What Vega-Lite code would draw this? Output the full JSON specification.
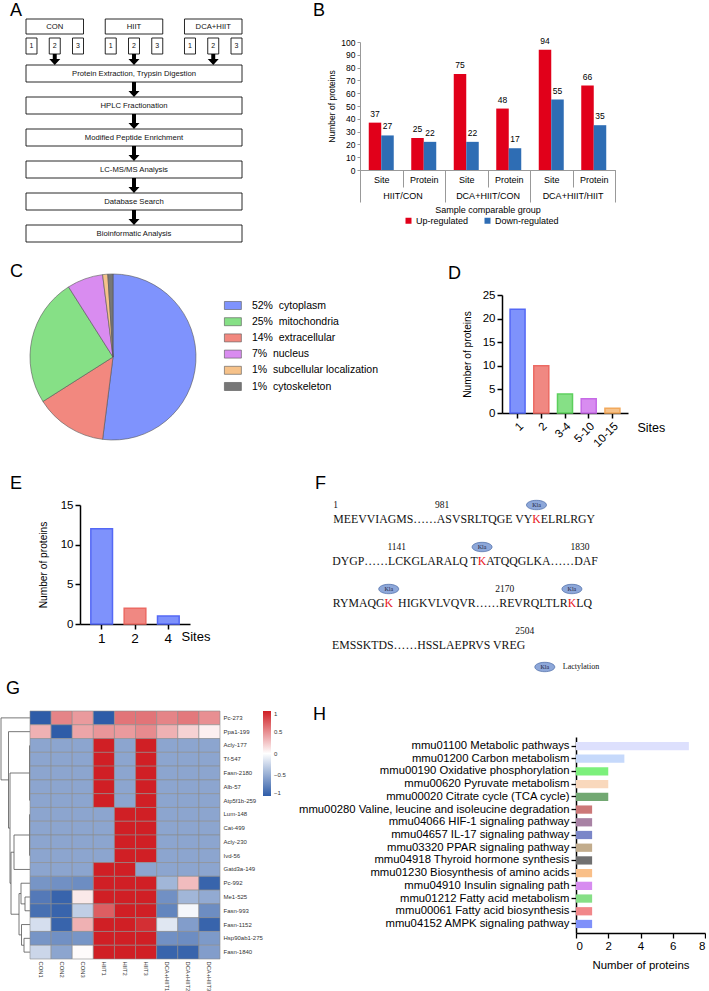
{
  "$schema": "https://vega.github.io/schema/vega-lite/v6.json",
  "background": "white",
  "padding": 0,
  "columns": 2,
  "align": "each",
  "bounds": "flush",
  "spacing": 0,
  "config": {
    "view": {"stroke": null},
    "font": "Liberation Sans",
    "axis": {"labelFont": "Liberation Sans", "titleFont": "Liberation Sans", "labelColor": "#000", "titleColor": "#000", "titleFontWeight": "normal", "grid": false, "labelOverlap": false},
    "legend": {"labelFont": "Liberation Sans", "titleFont": "Liberation Sans", "labelColor": "#000", "padding": 0},
    "title": {"font": "Liberation Sans", "fontSize": 18, "fontWeight": "normal", "anchor": "start", "frame": "group", "baseline": "top", "offset": 0, "color": "#000"},
    "text": {"font": "Liberation Sans", "color": "#000"}
  },
  "datasets": {
    "flowGroups": [
      {"group": "CON", "feeds": "Protein Extraction, Trypsin Digestion"},
      {"group": "HIIT", "feeds": "Protein Extraction, Trypsin Digestion"},
      {"group": "DCA+HIIT", "feeds": "Protein Extraction, Trypsin Digestion"}
    ],
    "flowSamples": [
      {"group": "CON", "sample": "1"}, {"group": "CON", "sample": "2"}, {"group": "CON", "sample": "3"},
      {"group": "HIIT", "sample": "1"}, {"group": "HIIT", "sample": "2"}, {"group": "HIIT", "sample": "3"},
      {"group": "DCA+HIIT", "sample": "1"}, {"group": "DCA+HIIT", "sample": "2"}, {"group": "DCA+HIIT", "sample": "3"}
    ],
    "flowSteps": [
      {"order": 1, "step": "Protein Extraction, Trypsin Digestion", "lane": "all"},
      {"order": 2, "step": "HPLC Fractionation", "lane": "all"},
      {"order": 3, "step": "Modified Peptide Enrichment", "lane": "all"},
      {"order": 4, "step": "LC-MS/MS Analysis", "lane": "all"},
      {"order": 5, "step": "Database Search", "lane": "all"},
      {"order": 6, "step": "Bioinformatic Analysis", "lane": "all"}
    ],
    "bData": [
      {"comparison": "HIIT/CON", "type": "Site", "direction": "Up-regulated", "count": 37},
      {"comparison": "HIIT/CON", "type": "Site", "direction": "Down-regulated", "count": 27},
      {"comparison": "HIIT/CON", "type": "Protein", "direction": "Up-regulated", "count": 25},
      {"comparison": "HIIT/CON", "type": "Protein", "direction": "Down-regulated", "count": 22},
      {"comparison": "DCA+HIIT/CON", "type": "Site", "direction": "Up-regulated", "count": 75},
      {"comparison": "DCA+HIIT/CON", "type": "Site", "direction": "Down-regulated", "count": 22},
      {"comparison": "DCA+HIIT/CON", "type": "Protein", "direction": "Up-regulated", "count": 48},
      {"comparison": "DCA+HIIT/CON", "type": "Protein", "direction": "Down-regulated", "count": 17},
      {"comparison": "DCA+HIIT/HIIT", "type": "Site", "direction": "Up-regulated", "count": 94},
      {"comparison": "DCA+HIIT/HIIT", "type": "Site", "direction": "Down-regulated", "count": 55},
      {"comparison": "DCA+HIIT/HIIT", "type": "Protein", "direction": "Up-regulated", "count": 66},
      {"comparison": "DCA+HIIT/HIIT", "type": "Protein", "direction": "Down-regulated", "count": 35}
    ],
    "cData": [
      {"location": "cytoplasm", "pct": 52, "seq": 1},
      {"location": "extracellular", "pct": 14, "seq": 2},
      {"location": "mitochondria", "pct": 25, "seq": 3},
      {"location": "nucleus", "pct": 7, "seq": 4},
      {"location": "subcellular localization", "pct": 1, "seq": 5},
      {"location": "cytoskeleton", "pct": 1, "seq": 6}
    ],
    "dData": [
      {"sites": "1", "count": 22}, {"sites": "2", "count": 10}, {"sites": "3-4", "count": 4},
      {"sites": "5-10", "count": 3}, {"sites": "10-15", "count": 1}
    ],
    "eData": [
      {"sites": "1", "count": 12}, {"sites": "2", "count": 2}, {"sites": "4", "count": 1}
    ],
    "fSeq": [
      {"line": 1, "pos": 25.56, "before": "MEEVVIAGMS……ASVSRLTQGE VY", "site": "K", "after": "ELRLRGY", "mod": "Kla"},
      {"line": 2, "pos": 18.76, "before": "DYGP……LCKGLARALQ T", "site": "K", "after": "ATQQGLKA……DAF", "mod": "Kla"},
      {"line": 3, "pos": 7.09, "before": "RYMAQG", "site": "K", "after": "", "mod": "Kla"},
      {"line": 3, "pos": 29.99, "before": "\u00a0HIGKVLVQVR……REVRQLTLR", "site": "K", "after": "\u00a0LQ", "mod": "Kla"}
    ],
    "fPlain": [
      {"line": 4, "pos": 0, "text": "EMSSKTDS……HSSLAEPRVS VREG"}
    ],
    "fNums": [
      {"line": 1, "pos": 0.44, "label": "1"},
      {"line": 1, "pos": 13.75, "label": "981"},
      {"line": 2, "pos": 8.1, "label": "1141"},
      {"line": 2, "pos": 31, "label": "1830"},
      {"line": 3, "pos": 21.6, "label": "2170"},
      {"line": 4, "pos": 24.1, "label": "2504"}
    ],
    "fLegend": [
      {"line": 5, "pos": 26.6, "mod": "Kla", "meaning": "Lactylation"}
    ],
    "gData": [
      {"p": "Pc-273", "CON1": -1, "CON2": 0.55, "CON3": 0.45, "HIIT1": -1, "HIIT2": 0.62, "HIIT3": 0.62, "DCA+HIIT1": 0.55, "DCA+HIIT2": 0.6, "DCA+HIIT3": 0.5},
      {"p": "Ppa1-199", "CON1": 0.35, "CON2": -1, "CON3": 0.4, "HIIT1": 0.47, "HIIT2": 0.45, "HIIT3": 0.52, "DCA+HIIT1": 0.35, "DCA+HIIT2": 0.2, "DCA+HIIT3": 0.07},
      {"p": "Acly-177", "CON1": -0.55, "CON2": -0.55, "CON3": -0.55, "HIIT1": 1, "HIIT2": -0.55, "HIIT3": 1, "DCA+HIIT1": -0.55, "DCA+HIIT2": -0.55, "DCA+HIIT3": -0.55},
      {"p": "Tf-547", "CON1": -0.55, "CON2": -0.55, "CON3": -0.55, "HIIT1": 1, "HIIT2": -0.55, "HIIT3": 1, "DCA+HIIT1": -0.55, "DCA+HIIT2": -0.55, "DCA+HIIT3": -0.55},
      {"p": "Fasn-2180", "CON1": -0.55, "CON2": -0.55, "CON3": -0.55, "HIIT1": 1, "HIIT2": -0.55, "HIIT3": 1, "DCA+HIIT1": -0.55, "DCA+HIIT2": -0.55, "DCA+HIIT3": -0.55},
      {"p": "Alb-57", "CON1": -0.55, "CON2": -0.55, "CON3": -0.55, "HIIT1": 1, "HIIT2": -0.55, "HIIT3": 1, "DCA+HIIT1": -0.55, "DCA+HIIT2": -0.55, "DCA+HIIT3": -0.55},
      {"p": "Atp5f1b-259", "CON1": -0.55, "CON2": -0.55, "CON3": -0.55, "HIIT1": 1, "HIIT2": -0.55, "HIIT3": 1, "DCA+HIIT1": -0.55, "DCA+HIIT2": -0.55, "DCA+HIIT3": -0.55},
      {"p": "Lum-148", "CON1": -0.55, "CON2": -0.55, "CON3": -0.55, "HIIT1": -0.55, "HIIT2": 1, "HIIT3": 1, "DCA+HIIT1": -0.55, "DCA+HIIT2": -0.55, "DCA+HIIT3": -0.55},
      {"p": "Cat-499", "CON1": -0.55, "CON2": -0.55, "CON3": -0.55, "HIIT1": -0.55, "HIIT2": 1, "HIIT3": 1, "DCA+HIIT1": -0.55, "DCA+HIIT2": -0.55, "DCA+HIIT3": -0.55},
      {"p": "Acly-230", "CON1": -0.55, "CON2": -0.55, "CON3": -0.55, "HIIT1": -0.55, "HIIT2": 1, "HIIT3": 1, "DCA+HIIT1": -0.55, "DCA+HIIT2": -0.55, "DCA+HIIT3": -0.55},
      {"p": "Ivd-56", "CON1": -0.55, "CON2": -0.55, "CON3": -0.55, "HIIT1": -0.55, "HIIT2": 1, "HIIT3": 1, "DCA+HIIT1": -0.55, "DCA+HIIT2": -0.55, "DCA+HIIT3": -0.55},
      {"p": "Gatd3a-149", "CON1": -0.55, "CON2": -0.55, "CON3": -0.55, "HIIT1": 1, "HIIT2": 1, "HIIT3": -0.55, "DCA+HIIT1": -0.55, "DCA+HIIT2": -0.55, "DCA+HIIT3": -0.55},
      {"p": "Pc-992", "CON1": -0.65, "CON2": -0.68, "CON3": -0.7, "HIIT1": 1, "HIIT2": 1, "HIIT3": 1, "DCA+HIIT1": -0.45, "DCA+HIIT2": 0.3, "DCA+HIIT3": -0.95},
      {"p": "Me1-525", "CON1": -0.82, "CON2": -0.95, "CON3": 0.1, "HIIT1": 1, "HIIT2": 1, "HIIT3": 1, "DCA+HIIT1": -0.68, "DCA+HIIT2": -0.45, "DCA+HIIT3": -0.52},
      {"p": "Fasn-993", "CON1": -0.88, "CON2": -0.95, "CON3": -0.3, "HIIT1": 0.72, "HIIT2": 1, "HIIT3": 1, "DCA+HIIT1": -0.75, "DCA+HIIT2": -0.05, "DCA+HIIT3": -0.7},
      {"p": "Fasn-1152", "CON1": -0.2, "CON2": -0.95, "CON3": 0.35, "HIIT1": 1, "HIIT2": 1, "HIIT3": 0.93, "DCA+HIIT1": -0.15, "DCA+HIIT2": -0.6, "DCA+HIIT3": -0.95},
      {"p": "Hsp90ab1-275", "CON1": -0.65, "CON2": -0.68, "CON3": -0.65, "HIIT1": 1, "HIIT2": 1, "HIIT3": 1, "DCA+HIIT1": -0.68, "DCA+HIIT2": -0.7, "DCA+HIIT3": -0.62},
      {"p": "Fasn-1840", "CON1": -0.25, "CON2": -0.55, "CON3": 0.02, "HIIT1": 1, "HIIT2": 1, "HIIT3": 1, "DCA+HIIT1": -0.95, "DCA+HIIT2": -0.95, "DCA+HIIT3": -0.6}
    ],
    "dend": [
      {"h1": 29, "h2": 29, "r1": 1, "r2": 5.5}, {"h1": 29, "h2": 0, "r1": 1, "r2": 1}, {"h1": 29, "h2": 21.5, "r1": 5.5, "r2": 5.5},
      {"h1": 21.5, "h2": 21.5, "r1": 2, "r2": 9}, {"h1": 21.5, "h2": 0, "r1": 2, "r2": 2}, {"h1": 21.5, "h2": 20, "r1": 9, "r2": 9},
      {"h1": 20, "h2": 20, "r1": 5, "r2": 13}, {"h1": 20, "h2": 0.5, "r1": 5, "r2": 5}, {"h1": 20, "h2": 19, "r1": 13, "r2": 13},
      {"h1": 0.5, "h2": 0.5, "r1": 3, "r2": 7},
      {"h1": 19, "h2": 19, "r1": 10.75, "r2": 15.25}, {"h1": 19, "h2": 16, "r1": 10.75, "r2": 10.75}, {"h1": 19, "h2": 11, "r1": 15.25, "r2": 15.25},
      {"h1": 16, "h2": 16, "r1": 9.5, "r2": 12}, {"h1": 16, "h2": 0.5, "r1": 9.5, "r2": 9.5}, {"h1": 16, "h2": 0, "r1": 12, "r2": 12},
      {"h1": 0.5, "h2": 0.5, "r1": 8, "r2": 11},
      {"h1": 11, "h2": 11, "r1": 13.75, "r2": 16.75}, {"h1": 11, "h2": 9, "r1": 13.75, "r2": 13.75}, {"h1": 11, "h2": 8.5, "r1": 16.75, "r2": 16.75},
      {"h1": 9, "h2": 9, "r1": 13, "r2": 14.5}, {"h1": 9, "h2": 0, "r1": 13, "r2": 13}, {"h1": 9, "h2": 5, "r1": 14.5, "r2": 14.5},
      {"h1": 5, "h2": 5, "r1": 14, "r2": 15}, {"h1": 5, "h2": 0, "r1": 14, "r2": 14}, {"h1": 5, "h2": 0, "r1": 15, "r2": 15},
      {"h1": 8.5, "h2": 8.5, "r1": 16, "r2": 17.5}, {"h1": 8.5, "h2": 0, "r1": 16, "r2": 16}, {"h1": 8.5, "h2": 6, "r1": 17.5, "r2": 17.5},
      {"h1": 6, "h2": 6, "r1": 17, "r2": 18}, {"h1": 6, "h2": 0, "r1": 17, "r2": 17}, {"h1": 6, "h2": 0, "r1": 18, "r2": 18}
    ],
    "hData": [
      {"pathway": "mmu01100 Metabolic pathways", "count": 7},
      {"pathway": "mmu01200 Carbon metabolism", "count": 3},
      {"pathway": "mmu00190 Oxidative phosphorylation", "count": 2},
      {"pathway": "mmu00620 Pyruvate metabolism", "count": 2},
      {"pathway": "mmu00020 Citrate cycle (TCA cycle)", "count": 2},
      {"pathway": "mmu00280 Valine, leucine and isoleucine degradation", "count": 1},
      {"pathway": "mmu04066 HIF-1 signaling pathway", "count": 1},
      {"pathway": "mmu04657 IL-17 signaling pathway", "count": 1},
      {"pathway": "mmu03320 PPAR signaling pathway", "count": 1},
      {"pathway": "mmu04918 Thyroid hormone synthesis", "count": 1},
      {"pathway": "mmu01230 Biosynthesis of amino acids", "count": 1},
      {"pathway": "mmu04910 Insulin signaling path", "count": 1},
      {"pathway": "mmu01212 Fatty acid metabolism", "count": 1},
      {"pathway": "mmu00061 Fatty acid biosynthesis", "count": 1},
      {"pathway": "mmu04152 AMPK signaling pathway", "count": 1}
    ]
  },
  "concat": [
    {
      "width": 360, "height": 274,
      "title": {"text": "A", "dx": 10, "dy": 23.5},
      "resolve": {"scale": {"x": "independent", "y": "independent"}},
      "layer": [
        {
          "data": {"name": "flowGroups"},
          "encoding": {
            "x": {"field": "group", "type": "nominal", "sort": null, "axis": null, "scale": {"type": "band", "range": [26, 242], "paddingInner": 0.2744, "paddingOuter": 0}},
            "y": {"datum": "groups", "type": "nominal", "axis": null, "scale": {"type": "band", "range": [19, 34], "paddingInner": 0, "paddingOuter": 0}}
          },
          "layer": [
            {"mark": {"type": "rect", "fill": "white", "stroke": "#111", "strokeWidth": 0.9}},
            {"mark": {"type": "text", "fontSize": 7.7, "color": "#111"}, "encoding": {"text": {"field": "group"}}}
          ]
        },
        {
          "data": {"name": "flowSamples"},
          "encoding": {
            "x": {"field": "group", "type": "nominal", "sort": null, "axis": null, "scale": {"type": "band", "range": [26, 242], "paddingInner": 0.2744, "paddingOuter": 0}},
            "xOffset": {"field": "sample", "type": "nominal", "scale": {"paddingInner": 0.527, "paddingOuter": 0}},
            "y": {"datum": "samples", "type": "nominal", "axis": null, "scale": {"type": "band", "range": [38, 54], "paddingInner": 0, "paddingOuter": 0}}
          },
          "layer": [
            {"mark": {"type": "rect", "fill": "white", "stroke": "#111", "strokeWidth": 0.9}},
            {"mark": {"type": "text", "fontSize": 7, "color": "#111"}, "encoding": {"text": {"field": "sample"}}}
          ]
        },
        {
          "data": {"name": "flowSteps"},
          "encoding": {
            "x": {"field": "lane", "type": "nominal", "axis": null, "scale": {"type": "band", "range": [26, 242], "paddingInner": 0, "paddingOuter": 0}},
            "y": {"field": "step", "type": "nominal", "axis": null, "scale": {"type": "band", "domain": ["Protein Extraction, Trypsin Digestion", "HPLC Fractionation", "Modified Peptide Enrichment", "LC-MS/MS Analysis", "Database Search", "Bioinformatic Analysis"], "range": [65, 242], "paddingInner": 0.46875, "paddingOuter": 0}}
          },
          "layer": [
            {"mark": {"type": "rect", "fill": "white", "stroke": "#111", "strokeWidth": 0.9}},
            {"mark": {"type": "text", "fontSize": 7.7, "color": "#111"}, "encoding": {"text": {"field": "step"}}}
          ]
        },
        {
          "data": {"name": "flowSteps"},
          "transform": [{"filter": "datum.order > 1"}],
          "mark": {"type": "point", "shape": "M-0.133,-1L0.133,-1L0.133,-0.4L0.367,-0.4L0,0L-0.367,-0.4L-0.133,-0.4Z", "size": 900, "filled": true, "fill": "#000", "strokeWidth": 0, "opacity": 1},
          "encoding": {
            "x": {"field": "lane", "type": "nominal", "axis": null, "scale": {"type": "band", "range": [26, 242], "paddingInner": 0, "paddingOuter": 0}},
            "y": {"field": "step", "type": "nominal", "bandPosition": 0, "axis": null, "scale": {"type": "band", "domain": ["Protein Extraction, Trypsin Digestion", "HPLC Fractionation", "Modified Peptide Enrichment", "LC-MS/MS Analysis", "Database Search", "Bioinformatic Analysis"], "range": [65, 242], "paddingInner": 0.46875, "paddingOuter": 0}}
          }
        },
        {
          "data": {"name": "flowGroups"},
          "mark": {"type": "point", "shape": "M-0.18,-1L0.18,-1L0.18,-0.545L0.5,-0.545L0,0L-0.5,-0.545L-0.18,-0.545Z", "size": 484, "filled": true, "fill": "#000", "strokeWidth": 0, "opacity": 1},
          "encoding": {
            "x": {"field": "group", "type": "nominal", "sort": null, "axis": null, "scale": {"type": "band", "range": [26, 242], "paddingInner": 0.2744, "paddingOuter": 0}},
            "y": {"field": "feeds", "type": "nominal", "bandPosition": 0, "axis": null, "scale": {"type": "band", "domain": ["Protein Extraction, Trypsin Digestion", "HPLC Fractionation", "Modified Peptide Enrichment", "LC-MS/MS Analysis", "Database Search", "Bioinformatic Analysis"], "range": [65, 242], "paddingInner": 0.46875, "paddingOuter": 0}}
          }
        }
      ]
    },
    {
      "width": 255, "height": 170,
      "data": {"name": "bData"},
      "transform": [{"calculate": "datum.comparison + '|' + datum.type", "as": "combo"}],
      "title": {"text": "B", "dx": -47, "dy": 23.5},
      "resolve": {"scale": {"x": "independent", "xOffset": "independent"}},
      "layer": [
        {
          "encoding": {
            "x": {"field": "combo", "type": "nominal", "sort": null, "scale": {"paddingInner": 0, "paddingOuter": 0},
              "axis": {"title": null, "labelExpr": "split(datum.label, '|')[1]", "tickBand": "extent", "tickSize": 17, "labelPadding": -12, "labelAngle": 0, "labelFontSize": 9, "domainColor": "#999", "tickColor": "#999", "labelColor": "#000"}},
            "xOffset": {"field": "direction", "type": "nominal", "sort": ["Up-regulated", "Down-regulated"], "scale": {"paddingInner": 0, "paddingOuter": 0.7}},
            "y": {"field": "count", "type": "quantitative", "scale": {"domain": [0, 100], "range": [170, 42], "nice": false},
              "axis": {"values": [0, 10, 20, 30, 40, 50, 60, 70, 80, 90, 100], "title": "Number of proteins", "titleFontSize": 8.5, "labelFontSize": 8.5, "tickSize": 3, "domainColor": "#999", "tickColor": "#999", "titlePadding": 4, "labelColor": "#000", "labelOverlap": false}}
          },
          "layer": [
            {
              "mark": {"type": "bar"},
              "encoding": {
                "color": {"field": "direction", "type": "nominal", "sort": ["Up-regulated", "Down-regulated"], "scale": {"range": ["#E1001A", "#2E6DB4"]},
                  "legend": {"orient": "none", "legendX": 44, "legendY": 216, "direction": "horizontal", "title": null, "symbolType": "square", "symbolSize": 36, "labelFontSize": 9, "columnPadding": 14, "labelOffset": 3}}
              }
            },
            {
              "mark": {"type": "text", "dy": -4, "baseline": "bottom", "fontSize": 8.5},
              "encoding": {"text": {"field": "count", "type": "quantitative"}}
            }
          ]
        },
        {
          "mark": {"type": "point", "opacity": 0},
          "encoding": {
            "x": {"field": "comparison", "type": "nominal", "sort": null, "scale": {"type": "band", "paddingInner": 0, "paddingOuter": 0},
              "axis": {"orient": "bottom", "title": "Sample comparable group", "tickBand": "extent", "tickSize": 32, "labelPadding": -11, "labelAngle": 0, "labelFontSize": 9, "titleFontSize": 9, "titlePadding": 3, "domainColor": "#999", "tickColor": "#999", "labelColor": "#000"}},
            "y": {"field": "count", "type": "quantitative",
              "axis": {"values": [0, 10, 20, 30, 40, 50, 60, 70, 80, 90, 100], "title": "Number of proteins", "titleFontSize": 8.5, "labelFontSize": 8.5, "tickSize": 3, "domainColor": "#999", "tickColor": "#999", "titlePadding": 4, "labelColor": "#000", "labelOverlap": false}}
          }
        }
      ]
    },
    {
      "width": 226, "height": 166,
      "data": {"name": "cData"},
      "transform": [{"calculate": "datum.pct + '%\u00a0 ' + datum.location", "as": "label"}],
      "title": {"text": "C", "dx": 10, "dy": 12.5},
      "mark": {"type": "arc", "stroke": "#555", "strokeWidth": 0.6},
      "encoding": {
        "theta": {"field": "pct", "type": "quantitative", "stack": true},
        "order": {"field": "seq", "type": "quantitative"},
        "color": {
          "field": "label", "type": "nominal",
          "scale": {
            "domain": ["52%\u00a0 cytoplasm", "25%\u00a0 mitochondria", "14%\u00a0 extracellular", "7%\u00a0 nucleus", "1%\u00a0 subcellular localization", "1%\u00a0 cytoskeleton"],
            "range": ["#7F93FD", "#86E086", "#F2887F", "#D98CF0", "#F6C28A", "#777777"]
          },
          "legend": {"orient": "none", "legendX": 226.4, "legendY": 25, "title": null, "symbolType": "M-1.4,-0.66L1.4,-0.66L1.4,0.66L-1.4,0.66Z", "symbolSize": 147, "symbolStrokeColor": "#555", "symbolStrokeWidth": 0.6, "labelFontSize": 10.5, "labelOffset": 12.5, "rowPadding": 4.2, "labelLimit": 300}
        }
      }
    },
    {
      "width": 268, "height": 139,
      "data": {"name": "dData"},
      "title": {"text": "D", "dx": 88, "dy": 12.5},
      "mark": {"type": "bar", "strokeWidth": 1.5},
      "encoding": {
        "x": {"field": "sites", "type": "ordinal", "sort": null, "scale": {"range": [142, 268], "paddingInner": 0.367, "paddingOuter": 0.34},
          "axis": {"title": "Sites", "labelAngle": -45, "labelFontSize": 11.5, "labelColor": "#000", "tickSize": 5, "tickWidth": 1.5, "domainWidth": 1.5, "domainColor": "#000", "tickColor": "#000", "titleFontSize": 12.5, "titleX": 277, "titleY": 8, "titleAlign": "left", "titleBaseline": "top"}},
        "y": {"field": "count", "type": "quantitative", "scale": {"domain": [0, 25], "range": [139, 21], "nice": false},
          "axis": {"offset": -142, "values": [0, 5, 10, 15, 20, 25], "title": "Number of proteins", "titleFontSize": 10.2, "labelFontSize": 11.5, "labelColor": "#000", "tickSize": 5, "tickWidth": 1.5, "domainWidth": 1.5, "domainColor": "#000", "tickColor": "#000", "titlePadding": 10}},
        "fill": {"field": "sites", "type": "nominal", "sort": null, "scale": {"range": ["#7E92FC", "#F08882", "#86E086", "#D88CF0", "#F6C28A"]}, "legend": null},
        "stroke": {"field": "sites", "type": "nominal", "sort": null, "scale": {"range": ["#5468F5", "#EC6A63", "#5CCF5C", "#C66AE6", "#F2A95C"]}, "legend": null}
      }
    },
    {
      "width": 190, "height": 184,
      "data": {"name": "eData"},
      "title": {"text": "E", "dx": 10, "dy": 56.5},
      "mark": {"type": "bar", "strokeWidth": 1.5},
      "encoding": {
        "x": {"field": "sites", "type": "ordinal", "sort": null, "scale": {"range": [80, 190], "paddingInner": 0.35, "paddingOuter": 0.325},
          "axis": {"title": "Sites", "labelAngle": 0, "labelFontSize": 13.5, "labelColor": "#000", "tickSize": 5, "tickWidth": 1.5, "domainWidth": 1.5, "domainColor": "#000", "tickColor": "#000", "titleFontSize": 13, "titleX": 181, "titleY": 6, "titleAlign": "left", "titleBaseline": "top"}},
        "y": {"field": "count", "type": "quantitative", "scale": {"domain": [0, 15], "range": [184, 65], "nice": false},
          "axis": {"offset": -80, "values": [0, 5, 10, 15], "title": "Number of proteins", "titleFontSize": 10.2, "labelFontSize": 11.5, "labelColor": "#000", "tickSize": 5, "tickWidth": 1.5, "domainWidth": 1.5, "domainColor": "#000", "tickColor": "#000", "titlePadding": 12}},
        "fill": {"field": "sites", "type": "nominal", "sort": null, "scale": {"range": ["#7E92FC", "#F08882", "#86E086"]}, "legend": null},
        "stroke": {"field": "sites", "type": "nominal", "sort": null, "scale": {"range": ["#5468F5", "#EC6A63", "#5CCF5C"]}, "legend": null}
      }
    },
    {
      "width": 244, "height": 247,
      "title": {"text": "F", "dx": -45, "dy": 56.5},
      "layer": [
        {
          "data": {"name": "fSeq"},
          "mark": {"type": "text", "font": "Liberation Serif", "fontSize": 11.8, "align": "right", "baseline": "middle", "dx": -4.26, "color": "#111"},
          "encoding": {
            "x": {"field": "pos", "type": "quantitative", "scale": {"domain": [3.5, 34], "nice": false, "zero": false}, "axis": null},
            "y": {"field": "line", "type": "quantitative", "scale": {"domain": [-0.881, 5], "reverse": true, "nice": false, "zero": false}, "axis": null},
            "text": {"field": "before"}
          }
        },
        {
          "data": {"name": "fSeq"},
          "mark": {"type": "text", "font": "Liberation Serif", "fontSize": 11.8, "align": "left", "baseline": "middle", "dx": 4.26, "color": "#111"},
          "encoding": {
            "x": {"field": "pos", "type": "quantitative"},
            "y": {"field": "line", "type": "quantitative"},
            "text": {"field": "after"}
          }
        },
        {
          "data": {"name": "fSeq"},
          "mark": {"type": "text", "font": "Liberation Serif", "fontSize": 11.8, "align": "center", "baseline": "middle", "color": "#E8141B"},
          "encoding": {
            "x": {"field": "pos", "type": "quantitative"},
            "y": {"field": "line", "type": "quantitative"},
            "text": {"field": "site"}
          }
        },
        {
          "data": {"name": "fPlain"},
          "mark": {"type": "text", "font": "Liberation Serif", "fontSize": 11.8, "align": "left", "baseline": "middle", "color": "#111"},
          "encoding": {
            "x": {"field": "pos", "type": "quantitative"},
            "y": {"field": "line", "type": "quantitative"},
            "text": {"field": "text"}
          }
        },
        {
          "data": {"name": "fNums"},
          "mark": {"type": "text", "font": "Liberation Serif", "fontSize": 9.5, "dy": -14, "baseline": "middle", "color": "#111"},
          "encoding": {
            "x": {"field": "pos", "type": "quantitative"},
            "y": {"field": "line", "type": "quantitative"},
            "text": {"field": "label"}
          }
        },
        {
          "data": {"name": "fSeq"},
          "mark": {"type": "point", "shape": "M-1,-1.4A1,0.47,0,1,1,1,-1.4A1,0.47,0,1,1,-1,-1.4Z", "size": 400, "filled": true, "fill": "#8DA7D9", "stroke": "#4C6CA6", "strokeWidth": 0.7, "opacity": 1},
          "encoding": {
            "x": {"field": "pos", "type": "quantitative"},
            "y": {"field": "line", "type": "quantitative"}
          }
        },
        {
          "data": {"name": "fSeq"},
          "mark": {"type": "text", "font": "Liberation Serif", "fontSize": 6, "dy": -14, "baseline": "middle", "color": "#1d2440"},
          "encoding": {
            "x": {"field": "pos", "type": "quantitative"},
            "y": {"field": "line", "type": "quantitative"},
            "text": {"field": "mod"}
          }
        },
        {
          "data": {"name": "fLegend"},
          "mark": {"type": "point", "shape": "M-1,-2A1,0.47,0,1,1,1,-2A1,0.47,0,1,1,-1,-2Z", "size": 400, "filled": true, "fill": "#8DA7D9", "stroke": "#4C6CA6", "strokeWidth": 0.7, "opacity": 1},
          "encoding": {
            "x": {"field": "pos", "type": "quantitative"},
            "y": {"field": "line", "type": "quantitative"}
          }
        },
        {
          "data": {"name": "fLegend"},
          "mark": {"type": "text", "font": "Liberation Serif", "fontSize": 6, "dy": -20, "baseline": "middle", "color": "#1d2440"},
          "encoding": {
            "x": {"field": "pos", "type": "quantitative"},
            "y": {"field": "line", "type": "quantitative"},
            "text": {"field": "mod"}
          }
        },
        {
          "data": {"name": "fLegend"},
          "mark": {"type": "text", "font": "Liberation Serif", "fontSize": 8, "dy": -20, "dx": 18, "align": "left", "baseline": "middle", "color": "#111"},
          "encoding": {
            "x": {"field": "pos", "type": "quantitative"},
            "y": {"field": "line", "type": "quantitative"},
            "text": {"field": "meaning"}
          }
        }
      ]
    },
    {
      "width": 220, "height": 272,
      "title": {"text": "G", "dx": 6, "dy": 14.5},
      "resolve": {"scale": {"x": "independent", "y": "independent"}},
      "layer": [
        {
          "data": {"name": "dend"},
          "mark": {"type": "rule", "color": "#555", "strokeWidth": 0.8},
          "encoding": {
            "x": {"field": "h1", "type": "quantitative", "scale": {"domain": [0, 30], "range": [30, 0], "nice": false, "zero": false}, "axis": null},
            "x2": {"field": "h2"},
            "y": {"field": "r1", "type": "quantitative", "scale": {"domain": [0.5, 18.5], "range": [24, 272], "nice": false, "zero": false}, "axis": null},
            "y2": {"field": "r2"}
          }
        },
        {
          "data": {"name": "gData"},
          "transform": [{"fold": ["CON1", "CON2", "CON3", "HIIT1", "HIIT2", "HIIT3", "DCA+HIIT1", "DCA+HIIT2", "DCA+HIIT3"], "as": ["sample", "z"]}],
          "mark": {"type": "rect", "stroke": "#8c8c8c", "strokeWidth": 0.6},
          "encoding": {
            "x": {"field": "sample", "type": "nominal", "sort": ["CON1", "CON2", "CON3", "HIIT1", "HIIT2", "HIIT3", "DCA+HIIT1", "DCA+HIIT2", "DCA+HIIT3"], "scale": {"range": [30, 220], "paddingInner": 0, "paddingOuter": 0},
              "axis": {"orient": "bottom", "title": null, "labelAngle": 90, "labelAlign": "left", "labelBaseline": "middle", "labelFontSize": 5.8, "ticks": false, "domain": false, "labelPadding": 2, "labelColor": "#333"}},
            "y": {"field": "p", "type": "nominal", "sort": null, "scale": {"range": [24, 272], "paddingInner": 0, "paddingOuter": 0},
              "axis": {"orient": "right", "title": null, "labelFontSize": 6, "ticks": false, "domain": false, "labelPadding": 3, "labelColor": "#333"}},
            "color": {"field": "z", "type": "quantitative", "scale": {"domain": [-1, 0, 1], "range": ["#2E5CA8", "#FFFFFF", "#D01F25"], "interpolate": "rgb"},
              "legend": {"orient": "none", "legendX": 263, "legendY": 24, "direction": "vertical", "gradientLength": 85, "gradientThickness": 8, "title": null, "values": [-1, -0.5, 0, 0.5, 1], "format": ".1~f", "labelFontSize": 6, "labelOffset": 3, "gradientStrokeWidth": 0, "labelColor": "#333"}}
          }
        }
      ]
    },
    {
      "width": 345, "height": 246,
      "data": {"name": "hData"},
      "title": {"text": "H", "dx": -47, "dy": 40.5},
      "mark": {"type": "bar"},
      "encoding": {
        "y": {"field": "pathway", "type": "nominal", "sort": null, "scale": {"range": [50, 246], "paddingInner": 0.35, "paddingOuter": 0.385},
          "axis": {"offset": -216, "title": null, "labelFontSize": 11.3, "labelColor": "#000", "tickSize": 5, "tickWidth": 1.3, "domainWidth": 1.5, "domainColor": "#000", "tickColor": "#000", "labelPadding": 2, "labelLimit": 400}},
        "x": {"field": "count", "type": "quantitative", "scale": {"domain": [0, 8], "range": [216, 345], "nice": false},
          "axis": {"values": [0, 2, 4, 6, 8], "title": "Number of proteins", "titleFontSize": 11.4, "labelFontSize": 11.5, "labelColor": "#000", "tickSize": 5, "tickWidth": 1.3, "domainWidth": 1.5, "domainColor": "#000", "tickColor": "#000", "titlePadding": 8}},
        "color": {"field": "pathway", "type": "nominal", "sort": null, "scale": {"range": ["#DDE0FD", "#C6D9FB", "#7CF07C", "#F9D8BC", "#72A872", "#CC7878", "#A882A4", "#7A86C8", "#C2AC8C", "#707070", "#F9BF88", "#D78CF0", "#86DF86", "#F1878A", "#7F90FA"]}, "legend": null}
      }
    }
  ]
}
